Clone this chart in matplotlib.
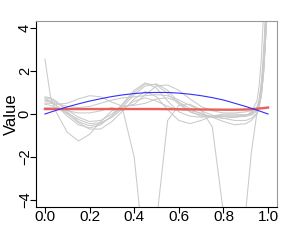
import matplotlib
matplotlib.use("Agg")
import matplotlib.pyplot as plt

# shared grid for the grey fits
xg = [0, .025, .05, .1, .15, .2, .25, .3, .35, .4, .45, .5, .55, .6, .65,
      .7, .75, .8, .85, .9, .925, .95, .96, .97, .98, .99, 1.0]

fit1 = [2.55, 0.8, 0.1, -0.85, -1.25, -0.95, -0.35, 0.15, 0.35, 0.4, 0.5, 0.7, 0.75,
        0.55, 0.25, 0.0, -0.15, -0.2, -0.15, -0.05, 0.05, 0.3, 0.7, 1.5, 2.9, 5.0, 8.0]
fit2 = [0.5, 0.5, 0.45, 0.5, 0.7, 0.85, 0.8, 0.55, 0.35, 0.45, 0.9, 1.3, 1.35,
        1.1, 0.7, 0.35, 0.15, 0.05, 0.05, 0.1, 0.15, 0.3, 0.6, 1.2, 2.4, 4.5, 7.5]
fit3 = [0.7, 0.6, 0.4, -0.1, -0.5, -0.65, -0.5, -0.1, 0.5, 1.1, 1.45, 1.2, 0.6,
        0.1, -0.1, -0.15, -0.1, -0.05, -0.05, -0.05, 0.0, 0.2, 0.5, 1.0, 2.0, 3.8, 6.5]
fit4 = [0.8, 0.75, 0.6, 0.1, -0.35, -0.55, -0.45, -0.1, 0.35, 0.9, 1.3, 1.4, 1.1,
        0.55, 0.1, -0.1, -0.15, -0.1, -0.1, -0.1, -0.05, 0.15, 0.4, 0.9, 1.9, 3.6, 6.2]
fit5 = [0.6, 0.55, 0.4, 0.0, -0.4, -0.7, -0.7, -0.35, 0.15, 0.7, 1.05, 0.8, 0.2,
        -0.3, -0.45, -0.3, -0.1, 0.0, 0.0, -0.05, 0.0, 0.2, 0.55, 1.2, 2.4, 4.4, 7.2]
fit6 = [0.3, 0.3, 0.25, 0.15, 0.05, 0.05, 0.15, 0.3, 0.15, -2.0, -7.0, -5.0, -0.3,
        0.4, 0.45, 0.2, -0.6, -4.6, -9.0, -4.5, -1.8, 0.05, 0.5, 1.3, 2.6, 4.6, 7.5]
fit7 = [0.65, 0.6, 0.5, 0.35, 0.3, 0.35, 0.5, 0.65, 0.75, 0.8, 0.85, 0.9, 0.85,
        0.65, 0.4, 0.15, -0.05, -0.2, -0.3, -0.3, -0.2, 0.05, 0.35, 0.9, 2.0, 3.9, 6.8]
fit8 = [0.45, 0.4, 0.3, 0.05, -0.25, -0.45, -0.4, -0.15, 0.25, 0.6, 0.75, 0.6, 0.35,
        0.2, 0.15, 0.05, -0.15, -0.35, -0.5, -0.45, -0.3, 0.0, 0.3, 0.85, 1.9, 3.7, 6.5]
fit9 = [0.75, 0.7, 0.55, 0.2, -0.15, -0.35, -0.3, 0.0, 0.45, 1.0, 1.4, 1.35, 0.95,
        0.45, 0.1, -0.05, -0.1, -0.1, -0.15, -0.1, 0.1, 0.6, 1.3, 2.6, 4.8, 8.0, 12.0]
fits = [fit1, fit2, fit3, fit4, fit5, fit6, fit7, fit8, fit9]

# true function (blue) and average fit (red)
xb = [0, .05, .1, .15, .2, .25, .3, .35, .4, .45, .5, .55, .6, .65, .7, .75,
      .8, .85, .9, .95, 1.0]
truth = [0, 0.17, 0.33, 0.47, 0.6, 0.71, 0.81, 0.89, 0.95, 0.99, 1.0, 1.0, 0.97,
         0.92, 0.85, 0.76, 0.65, 0.5, 0.35, 0.18, 0.0]
xr = [0, .1, .2, .3, .4, .5, .6, .7, .8, .85, .9, .95, 1.0]
avg = [0.23, 0.23, 0.23, 0.23, 0.23, 0.23, 0.22, 0.21, 0.2, 0.2, 0.21, 0.24, 0.3]

plt.rcParams['font.family'] = ['Liberation Sans', 'DejaVu Sans']

fig = plt.figure(figsize=(2.89, 2.41), dpi=100)
ax = fig.add_axes([36 / 289, 1 - 207 / 241, 241 / 289, 186 / 241])

for f in fits:
    ax.plot(xg, f, color='#cacaca', lw=0.75)
ax.plot(xr, avg, color='#e8605a', lw=1.7)
ax.plot(xb, truth, color='#3030ff', lw=0.8)

ax.set_xlim(-0.04, 1.04)
ax.set_ylim(-4.32, 4.32)
ax.set_xticks([0, 0.2, 0.4, 0.6, 0.8, 1.0])
ax.set_xticklabels(['0.0', '0.2', '0.4', '0.6', '0.8', '1.0'])
ax.set_yticks([-4, -2, 0, 2, 4])
ax.set_yticklabels(['\u22124', '\u22122', '0', '2', '4'], rotation=90, va='center')
ax.tick_params(axis='x', length=4, pad=-2, labelsize=11)
ax.tick_params(axis='y', length=4, pad=-1, labelsize=10.5)
ax.set_ylabel('Value', fontsize=12)
ax.yaxis.set_label_coords(-0.07, 0.5)

for s in ['top', 'right']:
    ax.spines[s].set_color('#999999')
for s in ['left', 'bottom']:
    ax.spines[s].set_color('black')

fig.savefig('out.png', dpi=100)
